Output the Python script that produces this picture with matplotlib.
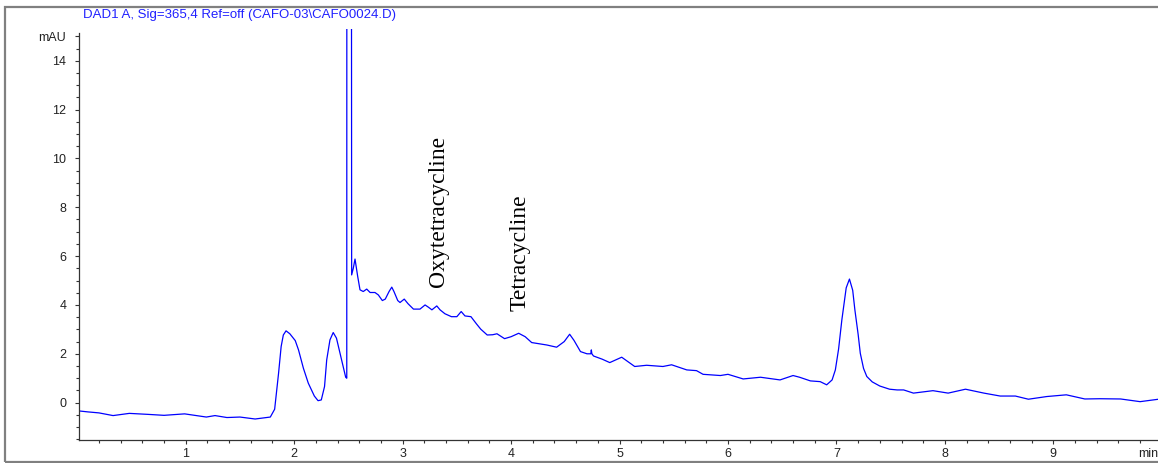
import matplotlib
matplotlib.use("Agg")
import matplotlib.pyplot as plt
from matplotlib.patches import Rectangle
from matplotlib.ticker import FixedLocator, MultipleLocator

# ---- data ----
time_min = [0.016, 0.10, 0.20, 0.33, 0.48, 0.65, 0.80, 0.99, 1.19, 1.27, 1.38, 1.50, 1.64, 1.78,
            1.82, 1.856, 1.88, 1.90, 1.925, 1.96, 2.01, 2.04, 2.085, 2.13, 2.186, 2.22, 2.25,
            2.28, 2.30, 2.33, 2.36, 2.39, 2.43, 2.475, 2.485,
            2.487, 2.523, 2.53, 2.545, 2.561, 2.586, 2.607, 2.637, 2.669, 2.70, 2.745, 2.776, 2.813,
            2.84, 2.875, 2.90, 2.92, 2.955, 2.976, 3.015, 3.05, 3.10, 3.16, 3.207, 3.237, 3.27,
            3.315, 3.345, 3.39, 3.45, 3.50, 3.54, 3.575, 3.63, 3.68, 3.72, 3.78, 3.83, 3.87, 3.94,
            4.00, 4.07, 4.13, 4.19, 4.33, 4.42, 4.49, 4.54, 4.58, 4.64, 4.70,
            4.735, 4.74, 4.745, 4.76, 4.84, 4.91, 5.02, 5.14, 5.25, 5.40, 5.48, 5.62, 5.71, 5.77,
            5.93, 6.00, 6.14, 6.30, 6.48, 6.60, 6.66, 6.76, 6.85, 6.91, 6.96, 6.99, 7.02, 7.05, 7.09,
            7.12, 7.15, 7.17, 7.20, 7.22, 7.25, 7.28, 7.33, 7.40, 7.49, 7.56, 7.62, 7.71, 7.89, 8.03,
            8.19, 8.36, 8.51, 8.65, 8.77, 8.94, 9.12, 9.29, 9.43, 9.62, 9.80, 9.97]
absorb_mau = [-0.34, -0.38, -0.42, -0.53, -0.44, -0.48, -0.52, -0.46, -0.59, -0.53, -0.61, -0.59, -0.67, -0.59,
              -0.27, 1.20, 2.30, 2.77, 2.94, 2.82, 2.54, 2.16, 1.41, 0.80, 0.27, 0.08, 0.11,
              0.66, 1.75, 2.57, 2.87, 2.64, 1.89, 1.04, 1.00,
              60.0, 60.0, 5.23, 5.50, 5.88, 5.16, 4.62, 4.55, 4.65, 4.51, 4.51, 4.41, 4.18,
              4.24, 4.55, 4.73, 4.55, 4.18, 4.10, 4.24, 4.05, 3.83, 3.83, 4.00, 3.91, 3.80,
              3.96, 3.80, 3.64, 3.52, 3.52, 3.73, 3.55, 3.52, 3.23, 3.01, 2.77, 2.78, 2.82, 2.62,
              2.70, 2.84, 2.70, 2.46, 2.36, 2.27, 2.50, 2.80, 2.55, 2.09, 2.00,
              2.00, 2.16, 2.00, 1.91, 1.78, 1.64, 1.86, 1.48, 1.53, 1.48, 1.55, 1.34, 1.31, 1.16,
              1.11, 1.16, 0.97, 1.04, 0.93, 1.11, 1.04, 0.89, 0.86, 0.73, 0.93, 1.34, 2.20, 3.39, 4.70,
              5.06, 4.60, 3.80, 2.80, 2.02, 1.40, 1.07, 0.85, 0.68, 0.55, 0.52, 0.52, 0.39, 0.49, 0.39,
              0.55, 0.39, 0.27, 0.27, 0.14, 0.25, 0.32, 0.15, 0.16, 0.15, 0.04, 0.14]

y_major = [0, 2, 4, 6, 8, 10, 12, 14, 15]
y_labels = ["0", "2", "4", "6", "8", "10", "12", "14", "mAU"]
x_major = [1, 2, 3, 4, 5, 6, 7, 8, 9]
x_labels = ["1", "2", "3", "4", "5", "6", "7", "8", "9"]

title_text = "DAD1 A, Sig=365,4 Ref=off (CAFO-03\\CAFO0024.D)"
peak_names = ["Oxytetracycline", "Tetracycline"]
peak_label_x = [3.33, 4.08]
peak_label_y = [4.74, 3.77]

# ---- figure ----
W, H = 1158, 463
fig = plt.figure(figsize=(W / 100, H / 100), dpi=100)
plt.rcParams['font.family'] = ['Liberation Sans', 'DejaVu Sans']

# outer gray frame
fig.add_artist(Rectangle((5 / W, 1 / H), 1.2, (H - 7 - 1) / H, transform=fig.transFigure,
                         fill=False, edgecolor="#808080", linewidth=1.6, clip_on=False))

ax = fig.add_axes([79 / W, 1 - 440 / H, (W - 79) / W, (440 - 29) / H])
ax.plot(time_min, absorb_mau, color="#0000ff", linewidth=0.9)
ax.set_xlim(0.016, 9.965)
ax.set_ylim(-1.53, 15.3)

for s in ["top", "right"]:
    ax.spines[s].set_visible(False)
for s in ["left", "bottom"]:
    ax.spines[s].set_color("#333333")
    ax.spines[s].set_linewidth(0.9)
ax.spines["left"].set_bounds(-1.53, 15.15)

ax.yaxis.set_major_locator(FixedLocator(y_major))
ax.set_yticklabels(y_labels)
ax.yaxis.set_minor_locator(MultipleLocator(0.5))
ax.xaxis.set_major_locator(FixedLocator(x_major))
ax.set_xticklabels(x_labels)
ax.xaxis.set_minor_locator(MultipleLocator(0.2))

ax.tick_params(axis="both", which="major", direction="out", length=3.2, width=0.8,
               color="#333333", labelsize=9, labelcolor="#222222")
ax.tick_params(axis="both", which="minor", direction="out", length=2.4, width=0.8, color="#333333")
ax.tick_params(axis="y", which="major", pad=6)
ax.tick_params(axis="x", which="major", pad=2.5)

ax.text(1.0, -0.02, "min", transform=ax.transAxes, ha="right", va="top",
        fontsize=9, color="#222222")

fig.text(83 / W, 1 - 15 / H, title_text, ha="left", va="center", fontsize=9.5, color="#2020ff")

for name, px, py in zip(peak_names, peak_label_x, peak_label_y):
    ax.text(px, py, name, rotation=90, ha="center", va="bottom", fontsize=17,
            family=["Liberation Serif", "DejaVu Serif"], color="black")

fig.savefig("out.png", dpi=100)
